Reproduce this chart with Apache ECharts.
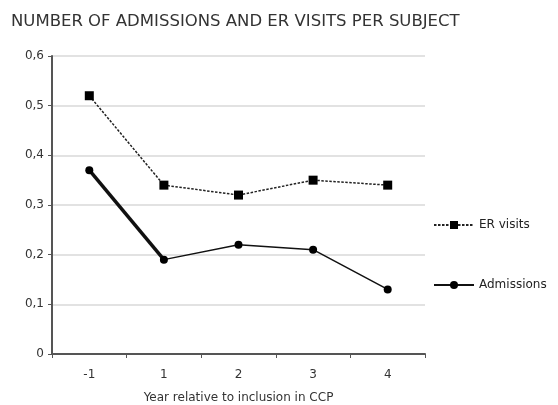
<!DOCTYPE html>
<html><head><meta charset="utf-8">
<script src="https://cdn.jsdelivr.net/npm/echarts@6/dist/echarts.min.js"></script>
<style>html,body{margin:0;padding:0;background:#fff}#c{width:558px;height:405px}</style>
</head><body><div id="c"></div>
<script>
const categories = ['-1', '1', '2', '3', '4'];
const erVisits = [0.52, 0.34, 0.32, 0.35, 0.34];
const admissions = [0.37, 0.19, 0.22, 0.21, 0.13];
const yTicks = [0, 0.1, 0.2, 0.3, 0.4, 0.5, 0.6];

const firstSeg = admissions.map((v, i) => i < 2 ? v : null);
const chart = echarts.init(document.getElementById('c'), null, {renderer: 'canvas'});
chart.setOption({
  animation: false,
  backgroundColor: '#fff',
  title: {
    text: 'NUMBER OF ADMISSIONS AND ER VISITS PER SUBJECT',
    left: 6, top: 8,
    textStyle: {fontFamily: 'DejaVu Sans', fontSize: 16.5, fontWeight: 'normal', color: '#333'}
  },
  legend: {
    orient: 'vertical', left: 428, top: 214, itemGap: 48,
    itemWidth: 40, itemHeight: 10,
    data: ['ER visits', 'Admissions'],
    textStyle: {fontFamily: 'DejaVu Sans', fontSize: 12, color: '#222'}
  },
  grid: {left: 52, right: 133, top: 56, bottom: 51, containLabel: false, outerBoundsMode: 'none'},
  xAxis: {
    type: 'category', data: categories, boundaryGap: true,
    name: 'Year relative to inclusion in CCP', nameLocation: 'middle', nameGap: 38,
    nameTextStyle: {fontFamily: 'DejaVu Sans', fontSize: 12, color: '#333'},
    axisLine: {lineStyle: {color: '#555', width: 2}},
    axisTick: {show: true, alignWithLabel: false, length: 4, lineStyle: {color: '#555'}},
    axisLabel: {fontFamily: 'DejaVu Sans', fontSize: 12, color: '#333', margin: 15}
  },
  yAxis: {
    type: 'value', min: 0, max: 0.6, interval: 0.1,
    axisLine: {show: true, lineStyle: {color: '#555', width: 2}},
    axisTick: {show: true, length: 4, inside: false, lineStyle: {color: '#555'}},
    splitLine: {lineStyle: {color: '#d8d8d8', width: 1.5}},
    axisLabel: {fontFamily: 'DejaVu Sans', fontSize: 12, color: '#333', margin: 8,
      formatter: v => { const t = yTicks.find(x => Math.abs(x - v) < 1e-9); return (t === 0 ? '0' : t.toFixed(1).replace('.', ',')); }}
  },
  series: [
    {
      name: 'ER visits', type: 'line', data: erVisits,
      symbol: 'rect', symbolSize: 9,
      lineStyle: {color: '#222', width: 1.5, type: [2.5, 1.5]},
      itemStyle: {color: '#000'}
    },
    {
      name: 'Admissions', type: 'line', data: admissions,
      symbol: 'circle', symbolSize: 8,
      lineStyle: {color: '#111', width: 1.5},
      itemStyle: {color: '#000'}
    },
    {
      name: 'adm-first', type: 'line', data: firstSeg,
      symbol: 'none', connectNulls: false,
      lineStyle: {color: '#111', width: 3.5},
      z: 1
    }
  ]
});
</script></body></html>
